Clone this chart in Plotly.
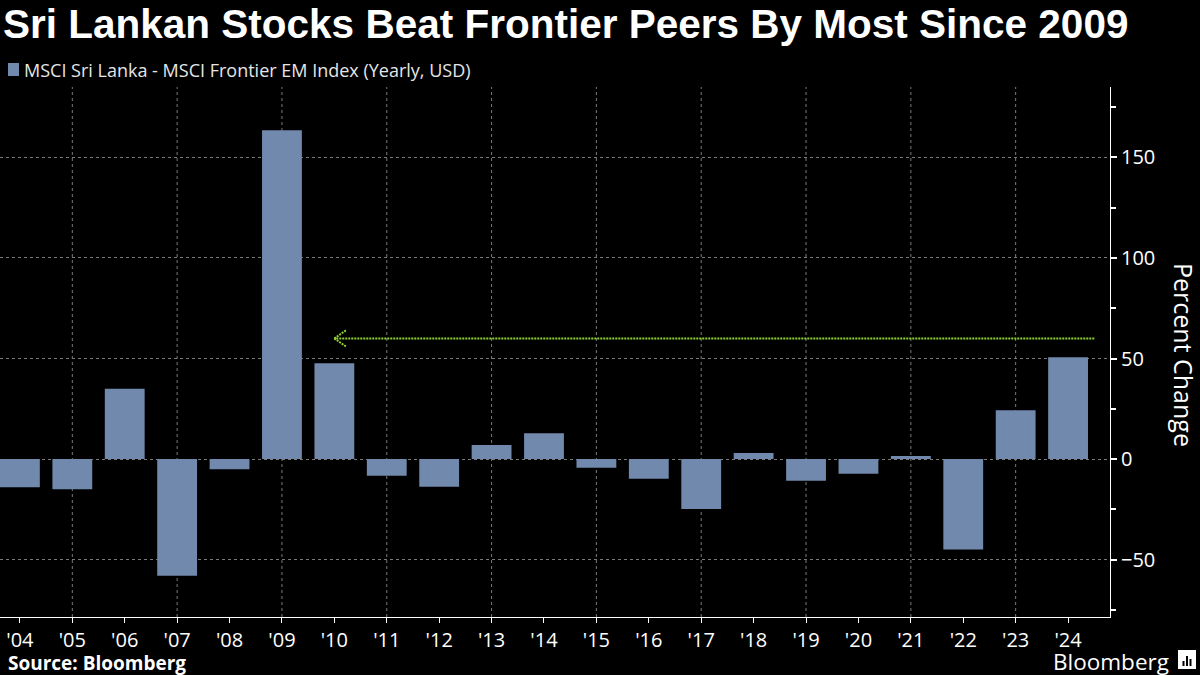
import plotly.graph_objects as go

# ---- data ----
years = ["'04", "'05", "'06", "'07", "'08", "'09", "'10", "'11", "'12", "'13", "'14",
         "'15", "'16", "'17", "'18", "'19", "'20", "'21", "'22", "'23", "'24"]
spread_pct = [-14.0, -15.0, 35.0, -58.0, -5.0, 163.5, 47.7, -8.3, -13.7, 7.0, 12.9,
              -4.3, -9.8, -24.8, 3.0, -10.8, -7.3, 1.5, -45.0, 24.3, 50.6]
series_name = "MSCI Sri Lanka - MSCI Frontier EM Index (Yearly, USD)"
y_tick_values = [-50, 0, 50, 100, 150]
arrow_start_year = "'24"
arrow_end_year = "'10"
arrow_level = 60

TITLE = "Sri Lankan Stocks Beat Frontier Peers By Most Since 2009"
BAR_COLOR = "#7189ad"
GRID = "#7a7a7a"
ARROW = "#8fd12f"

W, H = 1200, 675
L, R, T, B = 0, 90, 87, 58
PW, PH = W - L - R, H - T - B


def px(xp):
    return (xp - L) / PW


def py(yp):
    return (H - B - yp) / PH


fig = go.Figure()
fig.add_trace(go.Bar(x=years, y=spread_pct, name=series_name,
                     marker=dict(color=BAR_COLOR, line=dict(width=0)),
                     width=0.76, showlegend=False))

shapes = []
# vertical gridlines at every other year ('05, '07, ...)
for i in range(1, len(years), 2):
    shapes.append(dict(type="line", xref="x", yref="paper", x0=i, x1=i, y0=0, y1=1,
                       line=dict(color=GRID, width=1, dash="3px,3px"), layer="below"))

# dotted arrow from '24 back to '10
i_start = years.index(arrow_start_year) + 0.5
i_end = years.index(arrow_end_year)
shapes.append(dict(type="line", xref="x", yref="y", x0=i_start, x1=i_end,
                   y0=arrow_level, y1=arrow_level,
                   line=dict(color=ARROW, width=2, dash="2px,1px")))
for s in (1, -1):
    shapes.append(dict(type="line", xref="x", yref="y", x0=i_end, x1=i_end + 0.22,
                       y0=arrow_level, y1=arrow_level + s * 4,
                       line=dict(color=ARROW, width=2, dash="2px,1px")))

# legend swatch
shapes.append(dict(type="rect", xref="paper", yref="paper",
                   x0=px(8), x1=px(19), y0=py(76), y1=py(63),
                   fillcolor=BAR_COLOR, line=dict(width=0)))

# Bloomberg icon
shapes.append(dict(type="rect", xref="paper", yref="paper",
                   x0=px(1178), x1=px(1196), y0=py(669), y1=py(650),
                   fillcolor="white", line=dict(width=0)))
for k, hgt in enumerate([5, 10, 7]):
    x0 = 1182.5 + k * 3.5
    shapes.append(dict(type="rect", xref="paper", yref="paper",
                       x0=px(x0), x1=px(x0 + 2), y0=py(666), y1=py(666 - hgt),
                       fillcolor="black", line=dict(width=0)))

annotations = [
    dict(text="<b>" + TITLE + "</b>", xref="paper", yref="paper", x=px(1), y=py(24),
         xanchor="left", yanchor="middle", showarrow=False,
         font=dict(family="Liberation Sans", size=40.5, color="white")),
    dict(text=series_name, xref="paper", yref="paper", x=px(22), y=py(70),
         xanchor="left", yanchor="middle", showarrow=False,
         font=dict(family="Open Sans", size=18, color="#e6e6e6")),
    dict(text="Percent Change", xref="paper", yref="paper", x=px(1184), y=py(355),
         xanchor="center", yanchor="middle", showarrow=False, textangle=90,
         font=dict(family="Open Sans", size=25, color="white")),
    dict(text="<b>Source: Bloomberg</b>", xref="paper", yref="paper", x=px(6), y=py(663),
         xanchor="left", yanchor="middle", showarrow=False,
         font=dict(family="Open Sans", size=19, color="white")),
    dict(text="Bloomberg", xref="paper", yref="paper", x=px(1171), y=py(661),
         xanchor="right", yanchor="middle", showarrow=False,
         font=dict(family="Open Sans", size=22.5, color="white")),
]

fig.update_layout(
    width=W, height=H,
    paper_bgcolor="black", plot_bgcolor="black",
    margin=dict(l=L, r=R, t=T, b=B),
    bargap=0.24,
    shapes=shapes,
    annotations=annotations,
    xaxis=dict(type="category", range=[-0.38, 20.8], showgrid=False,
               showline=True, linecolor="white", linewidth=1,
               ticks="outside", ticklen=5, tickcolor="white",
               tickfont=dict(family="Open Sans", size=20, color="white"),
               fixedrange=True),
    yaxis=dict(side="right", range=[-78.5, 185], tickvals=y_tick_values,
               showgrid=True, gridcolor=GRID, griddash="3px,3px", gridwidth=1,
               zeroline=False, showline=True, linecolor="white", linewidth=1,
               ticks="outside", ticklen=6, tickwidth=2, tickcolor="white",
               tickfont=dict(family="Open Sans", size=20, color="white"),
               minor=dict(dtick=25, tick0=0, ticks="outside", ticklen=5,
                          tickcolor="white", showgrid=False),
               fixedrange=True),
    font=dict(family="Open Sans", color="white"),
)

fig.write_html("out.html",
               config={"displayModeBar": False, "staticPlot": True},
               post_script="document.body.style.margin='0';"
                           "document.body.style.background='black';")
